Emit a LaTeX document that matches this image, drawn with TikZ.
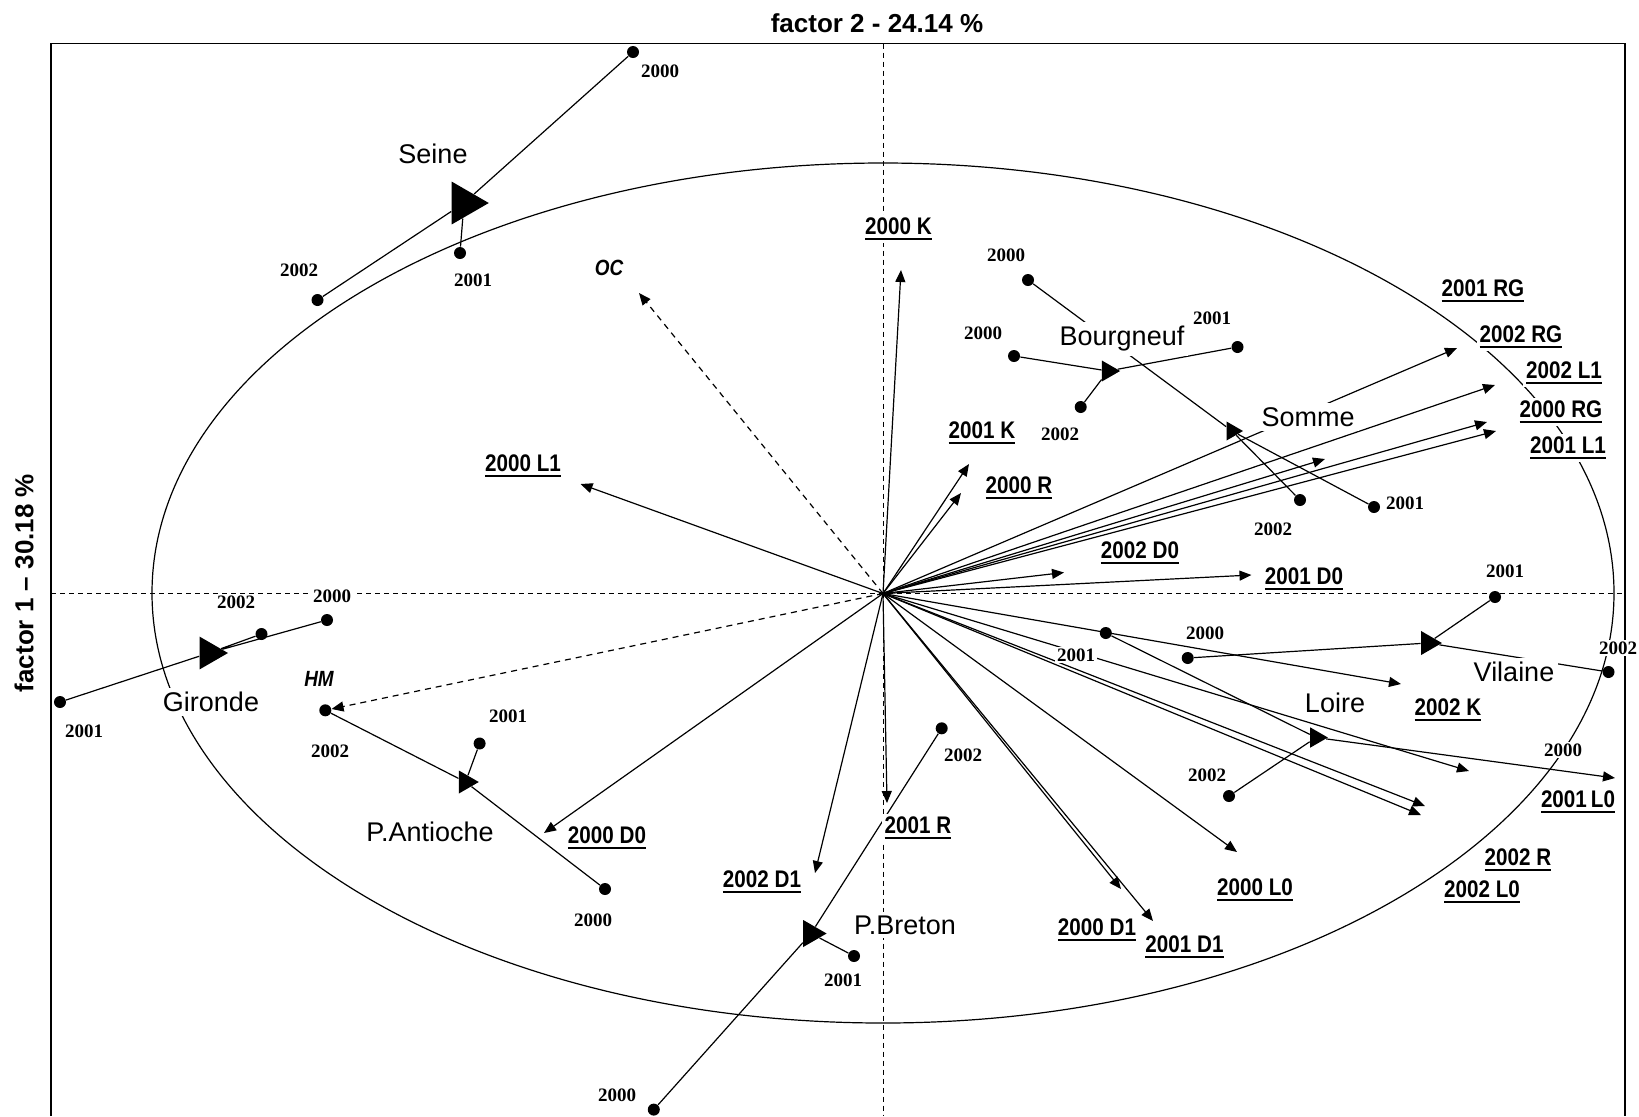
\documentclass[tikz,border=0pt]{standalone}
\usepackage{fontspec}
\setmainfont{Liberation Sans}
\newfontfamily\varfam{Liberation Sans}[FakeStretch=0.86]
\newfontfamily\yrfam{Liberation Serif}
\usetikzlibrary{arrows.meta,shapes.geometric}

\newcommand{\ulab}[1]{\vtop{\hbox{#1}\kern1.4pt\hrule height 1.1pt}}

\tikzset{
  axisline/.style={dash pattern=on 2.5pt off 2pt, line width=0.5pt},
  vec/.style={-{Triangle[length=6pt,width=5pt]}, line width=0.6pt},
  dvec/.style={vec, dash pattern=on 3pt off 2.5pt},
  link/.style={line width=0.6pt},
  obs/.style={circle, fill, inner sep=0pt, minimum size=6pt},
  cen/.style={regular polygon, regular polygon sides=3, shape border rotate=-90,
    fill, inner sep=0pt, minimum size=#1},
  yr/.style={font=\yrfam\bfseries\fontsize{9.5}{10}\selectfont, fill=white, inner sep=1pt},
  var/.style={font=\varfam\bfseries\fontsize{12}{12}\selectfont, fill=white, inner sep=1.5pt},
  est/.style={font=\fontsize{13.5}{14}\selectfont, fill=white, inner sep=2pt},
  supl/.style={font=\varfam\bfseries\itshape\fontsize{11}{11}\selectfont, fill=white, inner sep=1pt},
  axlab/.style={font=\bfseries\fontsize{13}{13}\selectfont},
}

\begin{document}
\begin{tikzpicture}[x=0.5pt, y=-0.5pt]
  \useasboundingbox (0,0) rectangle (1639,1116);

  % frame, axes, titles
  \draw[line width=0.8pt] (51,1116) |- (1625,43.6) -- (1625,1116);
  \draw[axisline] (883,43.6) -- (883,1116);
  \draw[axisline] (51,593.5) -- (1625,593.5);
  \node[axlab] (ttl) at (877,23) {factor 2 - 24.14 \%};
  \node[axlab, rotate=90] (ylab) at (24,583) {factor 1 -- 30.18 \%};

  % correlation circle
  \draw[line width=0.6pt] (883,593) ellipse [x radius=731, y radius=430];

  % origin and arrow tips
  \coordinate (O) at (883,593.5);
  \coordinate (tK00) at (901,270);
  \coordinate (tK01) at (969,464);
  \coordinate (tR00) at (961,493);
  \coordinate (tL100) at (580.5,484);
  \coordinate (tD000) at (544,833);
  \coordinate (tD102) at (815,873);
  \coordinate (tR01) at (887,803);
  \coordinate (tD100) at (1121,889);
  \coordinate (tD101) at (1153,921);
  \coordinate (tL000) at (1237,852);
  \coordinate (tR02) at (1425,806);
  \coordinate (tL002) at (1421,815);
  \coordinate (tL001) at (1469,771);
  \coordinate (tK02) at (1401,684);
  \coordinate (tD001) at (1251.5,575);
  \coordinate (tD002) at (1064,572.5);
  \coordinate (tRG01) at (1457,348);
  \coordinate (tL102) at (1495,385);
  \coordinate (tRG00) at (1487,422);
  \coordinate (tL101) at (1496,431);
  \coordinate (tRG02) at (1325,459);
  \coordinate (tOC) at (639,293);
  \coordinate (lo00) at (1615,778);

  % estuaries: centroids and yearly points
  \node[cen=24.8pt] (seine) at (464,203) {};
  \node[obs] (se00) at (633,52) {};
  \node[obs] (se01) at (460,253) {};
  \node[obs] (se02) at (317.5,300) {};

  \node[cen=19pt] (gironde) at (209,653) {};
  \node[obs] (gi00) at (327,620) {};
  \node[obs] (gi01) at (60,702) {};
  \node[obs] (gi02) at (261.5,634) {};

  \node[cen=13.3pt] (pantioche) at (465.5,782) {};
  \node[obs] (pa00) at (605,889) {};
  \node[obs] (pa01) at (479.6,743.5) {};
  \node[obs] (pa02) at (325.3,710.3) {};

  \node[cen=15.6pt] (pbreton) at (811,933.5) {};
  \node[obs] (pb00) at (653.8,1109.6) {};
  \node[obs] (pb01) at (854,956) {};
  \node[obs] (pb02) at (941.7,728.3) {};

  \node[cen=12.1pt] (bourgneuf) at (1108,371) {};
  \node[obs] (bo00) at (1014,356) {};
  \node[obs] (bo01) at (1237.5,347) {};
  \node[obs] (bo02) at (1080.7,407) {};

  \node[cen=11pt] (somme) at (1232,431) {};
  \node[obs] (so00) at (1028,280) {};
  \node[obs] (so01) at (1374,507) {};
  \node[obs] (so02) at (1300,500) {};

  \node[cen=13.9pt] (vilaine) at (1428,643) {};
  \node[obs] (vi00) at (1187.7,658) {};
  \node[obs] (vi01) at (1495,597) {};
  \node[obs] (vi02) at (1608.5,672) {};

  \node[cen=11.8pt] (loire) at (1316,737.5) {};
  \node[obs] (lo01) at (1105.8,633) {};
  \node[obs] (lo02) at (1229,796) {};

  % variables
  \foreach \t in {tK00,tK01,tR00,tL100,tD000,tD102,tR01,tD100,tD101,tL000,
                  tR02,tL002,tL001,tK02,tD001,tD002,tRG01,tL102,tRG00,tL101,tRG02}
    \draw[vec] (O) -- (\t);
  \draw[dvec] (O) -- (tOC);
  \draw[dvec] (O) -- (pa02);

  % trajectories
  \foreach \e/\a/\b/\c in {seine/se00/se01/se02, gironde/gi00/gi01/gi02,
                          pantioche/pa00/pa01/pa02, pbreton/pb00/pb01/pb02,
                          bourgneuf/bo00/bo01/bo02, somme/so00/so01/so02,
                          vilaine/vi00/vi01/vi02}
    \draw[link] (\a) -- (\e) -- (\b) (\e) -- (\c);
  \draw[link] (lo01) -- (loire) -- (lo02);
  \draw[vec] (loire) -- (lo00);

  % estuary names
  \node[est] (nseine) at (433,154) {Seine};
  \node[est] (ngironde) at (211,702) {Gironde};
  \node[est] (npantioche) at (430,832) {P.Antioche};
  \node[est] (npbreton) at (905,925) {P.Breton};
  \node[est] (nbourgneuf) at (1122,339) {Bourgneuf};
  \node[est] (nsomme) at (1308,417) {Somme};
  \node[est] (nvilaine) at (1514,672) {Vilaine};
  \node[est] (nloire) at (1335,703) {Loire};

  % years
  \node[yr] (yse00) at (660,71) {2000};
  \node[yr] (yse01) at (473,280) {2001};
  \node[yr] (yse02) at (299,270) {2002};
  \node[yr] (ygi00) at (332,596) {2000};
  \node[yr] (ygi01) at (84,731) {2001};
  \node[yr] (ygi02) at (236,602) {2002};
  \node[yr] (ypa00) at (593,920) {2000};
  \node[yr] (ypa01) at (508,716) {2001};
  \node[yr] (ypa02) at (330,751) {2002};
  \node[yr] (ypb00) at (617,1095) {2000};
  \node[yr] (ypb01) at (843,980) {2001};
  \node[yr] (ypb02) at (963,755) {2002};
  \node[yr] (ybo00) at (983,333) {2000};
  \node[yr] (ybo01) at (1212,318) {2001};
  \node[yr] (ybo02) at (1060,434) {2002};
  \node[yr] (yso00) at (1006,255) {2000};
  \node[yr] (yso01) at (1405,503) {2001};
  \node[yr] (yso02) at (1273,529) {2002};
  \node[yr] (yvi00) at (1205,633) {2000};
  \node[yr] (yvi01) at (1505,571) {2001};
  \node[yr] (yvi02) at (1618,648) {2002};
  \node[yr] (ylo00) at (1563,750) {2000};
  \node[yr] (ylo01) at (1076,655) {2001};
  \node[yr] (ylo02) at (1207,775) {2002};

  % variable labels
  \node[var] (vK00) at (898.5,229) {\ulab{2000 K}};
  \node[var] (vK01) at (982,433) {\ulab{2001 K}};
  \node[var] (vK02) at (1448,710) {\ulab{2002 K}};
  \node[var] (vR00) at (1019,488) {\ulab{2000 R}};
  \node[var] (vR01) at (918,828) {\ulab{2001 R}};
  \node[var] (vR02) at (1518,860) {\ulab{2002 R}};
  \node[var] (vL100) at (523,466) {\ulab{2000 L1}};
  \node[var] (vL101) at (1568,448) {\ulab{2001 L1}};
  \node[var] (vL102) at (1564,373) {\ulab{2002 L1}};
  \node[var] (vL000) at (1255,890) {\ulab{2000 L0}};
  \node[var] (vL001) at (1578,802) {\ulab{2001\,L0}};
  \node[var] (vL002) at (1482,892) {\ulab{2002 L0}};
  \node[var] (vD000) at (607,838) {\ulab{2000 D0}};
  \node[var] (vD001) at (1304,579) {\ulab{2001 D0}};
  \node[var] (vD002) at (1140,553) {\ulab{2002 D0}};
  \node[var] (vD100) at (1097,930) {\ulab{2000 D1}};
  \node[var] (vD101) at (1184.5,947) {\ulab{2001 D1}};
  \node[var] (vD102) at (762,882) {\ulab{2002 D1}};
  \node[var] (vRG00) at (1561,412) {\ulab{2000 RG}};
  \node[var] (vRG01) at (1483,291) {\ulab{2001 RG}};
  \node[var] (vRG02) at (1521,337) {\ulab{2002 RG}};
  \node[supl] (vOC) at (609,268) {OC};
  \node[supl] (vHM) at (319,679) {HM};
\end{tikzpicture}
\end{document}
